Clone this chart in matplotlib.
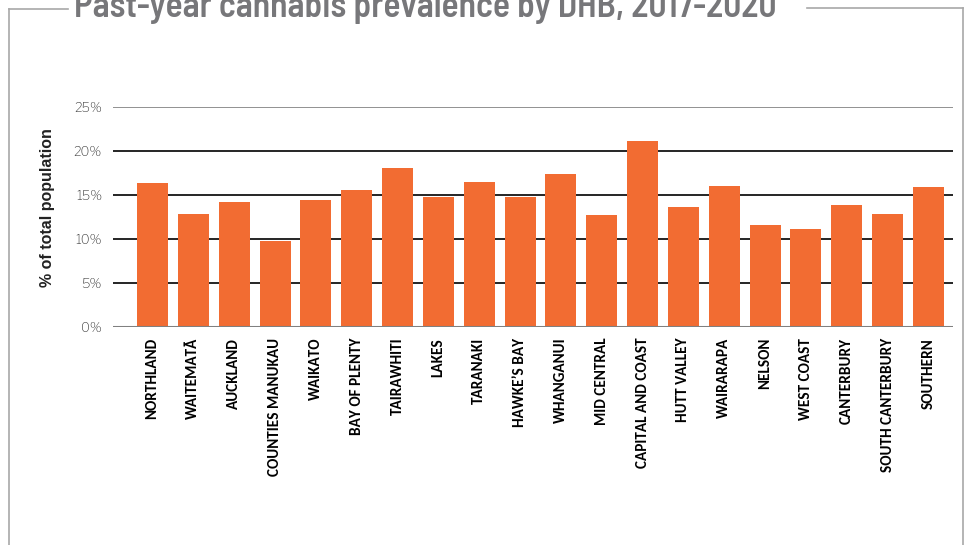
import matplotlib
matplotlib.use("Agg")
import matplotlib.pyplot as plt
from matplotlib.lines import Line2D

### Data
dhb_names = ["NORTHLAND", "WAITEMATĀ", "AUCKLAND", "COUNTIES MANUKAU", "WAIKATO",
             "BAY OF PLENTY", "TAIRAWHITI", "LAKES", "TARANAKI", "HAWKE’S BAY",
             "WHANGANUI", "MID CENTRAL", "CAPITAL AND COAST", "HUTT VALLEY",
             "WAIRARAPA", "NELSON", "WEST COAST", "CANTERBURY", "SOUTH CANTERBURY",
             "SOUTHERN"]
prevalence = [16.4, 12.85, 14.2, 9.8, 14.45,
              15.6, 18.1, 14.7, 16.5, 14.7,
              17.4, 12.75, 21.1, 13.65,
              16.0, 11.6, 11.1, 13.9, 12.85,
              15.95]
y_ticks = [0, 5, 10, 15, 20, 25]
y_tick_labels = ["0%", "5%", "10%", "15%", "20%", "25%"]
title_text = "Past-year cannabis prevalence by DHB, 2017-2020"
y_label = "% of total population"

bar_colour = "#f26c32"
frame_colour = "#a8a8a8"
label_fonts = ["Carlito", "Barlow Semi Condensed", "DejaVu Sans"]
title_fonts = ["Barlow Semi Condensed", "Archivo Narrow", "DejaVu Sans"]
tick_fonts = ["Libre Franklin", "Liberation Sans", "DejaVu Sans"]

fig = plt.figure(figsize=(9.71, 5.45), dpi=100)
ax = fig.add_axes([0.1164, 0.4006, 0.8646, 0.4031])

### Bars
positions = list(range(len(dhb_names)))
ax.bar(positions, prevalence, width=0.76, color=bar_colour, zorder=3)

ax.set_xlim(-0.967, 19.59)
ax.set_ylim(0, 25)

### Gridlines
for v in y_ticks[1:]:
    c = "#7f7f7f" if v == 25 else "black"
    ax.axhline(v, color=c, linewidth=1.2, zorder=1)
ax.axhline(0, color="#808080", linewidth=2.2, zorder=4)

for s in ax.spines.values():
    s.set_visible(False)

ax.set_yticks(y_ticks)
ax.set_yticklabels(y_tick_labels, fontsize=9.5, color="#333333", family=tick_fonts)
ax.tick_params(axis="y", length=0, pad=8)

ax.set_xticks(positions)
ax.set_xticklabels(dhb_names, rotation=90, fontsize=11, fontweight="bold",
                   family=label_fonts, va="top", ha="center")
ax.tick_params(axis="x", length=0, pad=8)

fig.text(0.049, 1 - 208 / 545, y_label, rotation=90, fontsize=11.5, fontweight="bold",
         family=["Liberation Sans", "DejaVu Sans"], ha="center", va="center", color="#222222")

### Frame round the chart, broken for the title
fig.add_artist(Line2D([8.5 / 971, 8.5 / 971], [0, 1 - 9 / 545], color=frame_colour,
                      linewidth=1.2, transform=fig.transFigure))
fig.add_artist(Line2D([8.5 / 971, 68 / 971], [1 - 9 / 545, 1 - 9 / 545], color=frame_colour,
                      linewidth=1.2, transform=fig.transFigure))
fig.add_artist(Line2D([807 / 971, 963 / 971], [1 - 8 / 545, 1 - 8 / 545], color=frame_colour,
                      linewidth=1.2, transform=fig.transFigure))
fig.add_artist(Line2D([963 / 971, 963 / 971], [0, 1 - 8 / 545], color=frame_colour,
                      linewidth=1.2, transform=fig.transFigure))

fig.text(425 / 971, 1 - 17 / 545, title_text, fontsize=25.5, fontweight="semibold",
         family=title_fonts, color="#77777a", ha="center", va="baseline")

fig.savefig("out.png", dpi=100)
